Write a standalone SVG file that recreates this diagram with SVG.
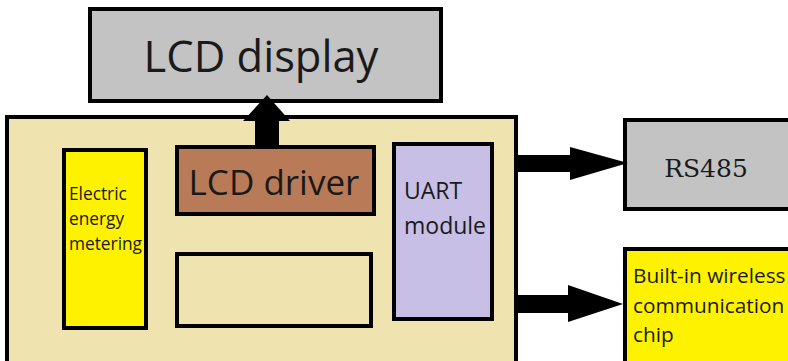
<svg xmlns="http://www.w3.org/2000/svg" width="788" height="361" viewBox="0 0 788 361">
<style>
.box{stroke:#000;stroke-width:4}
.sans{font-family:"Open Sans","Noto Sans",sans-serif;fill:#1a1a1a}
</style>
<rect width="788" height="361" fill="#fff"/>
<g id="lcd-display">
<rect class="box" x="90" y="9" width="351" height="92" fill="#c3c3c3"/>
<text class="sans" x="261" y="72" font-size="43.5" text-anchor="middle">LCD display</text>
</g>
<g id="main">
<rect class="box" x="7" y="117" width="509" height="260" fill="#efe4b0"/>
</g>
<g id="energy">
<rect class="box" x="64" y="150" width="82" height="178" fill="#fff200"/>
<text class="sans" font-size="17.3"><tspan x="69" y="200">Electric</tspan><tspan x="69" y="225">energy</tspan><tspan x="69" y="250">metering</tspan></text>
</g>
<g id="lcd-driver">
<rect class="box" x="177" y="147" width="197" height="67" fill="#b97a57"/>
<text class="sans" x="274" y="195" font-size="35" text-anchor="middle">LCD driver</text>
</g>
<g id="blank">
<rect class="box" x="177" y="254" width="194" height="72" fill="#efe4b0"/>
</g>
<g id="uart">
<rect class="box" x="394" y="144" width="98" height="175" fill="#c8bfe7"/>
<text class="sans" font-size="23"><tspan x="404" y="199">UART</tspan><tspan x="404" y="234">module</tspan></text>
</g>
<g id="rs485">
<rect class="box" x="625" y="120" width="175" height="89" fill="#c3c3c3"/>
<text x="706" y="177" font-family="DejaVu Serif,serif" font-size="25" fill="#1a1a1a" text-anchor="middle">RS485</text>
</g>
<g id="wireless">
<rect class="box" x="625" y="249" width="175" height="130" fill="#fff200"/>
<text class="sans" font-size="20.8"><tspan x="633" y="283">Built-in wireless</tspan><tspan x="633" y="313">communication</tspan><tspan x="633" y="342">chip</tspan></text>
</g>
<g id="connectors" fill="#000">
<polygon points="255,145 279,145 279,121 290,121 267,95 243,121 255,121"/>
<polygon points="516,155 570,155 570,147 628,163 570,180 570,172 516,172"/>
<polygon points="516,295 568,295 568,285 623,304 568,322 568,313 516,313"/>
</g>
</svg>
